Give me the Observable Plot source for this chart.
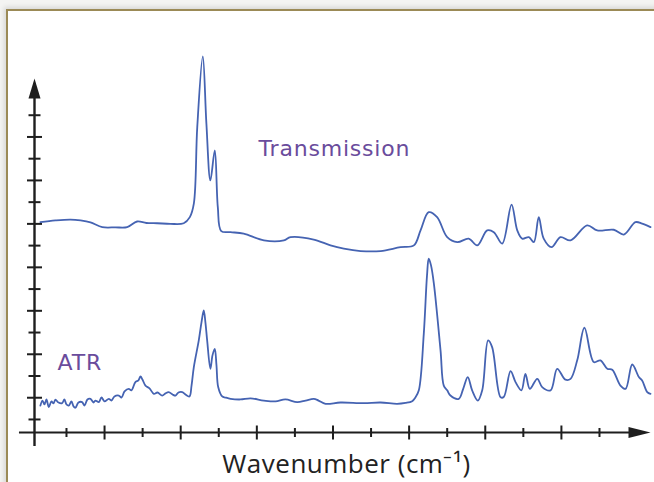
<!DOCTYPE html>
<html>
<head>
<meta charset="utf-8">
<script src="https://cdn.jsdelivr.net/npm/d3@7"></script>
<script src="https://cdn.jsdelivr.net/npm/@observablehq/plot@0.6"></script>
<style>
  html, body { margin: 0; padding: 0; background: #fff; }
  #wrap { position: relative; width: 654px; height: 482px; overflow: hidden; background: #f4f4f2; }
  #frame { position: absolute; left: 6px; top: 9px; width: 660px; height: 490px; background: #fff;
           border-left: 2px solid #9b8a56; border-top: 2px solid #9b8a56;
           box-shadow: -2px -2px 5px rgba(0,0,0,0.12); }
  #chart { position: absolute; left: 0; top: 0; }
</style>
</head>
<body>
<div id="wrap"><div id="frame"></div><div id="chart"></div></div>
<script>
// Transmission spectrum (wavenumber in cm-1, intensity in axis-tick units)
const transWavenumber = [3737,3658,3579,3526,3474,3412,3343,3281,3229,3180,3124,3054,2984,2952,2931,2913,2884,2865,2844,2821,2805,2787,2738,2669,2563,2458,2423,2301,2213,2143,2055,1950,1845,1775,1740,1697,1653,1600,1547,1487,1442,1390,1355,1311,1262,1232,1206,1171,1145,1119,1093,1052,1005,952,865,812,725,672,611,576,532];
const transIntensity  = [9.08,9.16,9.20,9.16,9.07,8.85,8.84,8.85,9.11,9.04,9.03,9.00,9.03,9.31,9.93,13.45,16.71,13.62,11.00,12.38,9.77,8.67,8.62,8.55,8.24,8.24,8.39,8.28,8.01,7.86,7.75,7.75,7.93,8.01,8.70,9.54,9.31,8.39,8.16,8.32,8.01,8.70,8.62,8.09,9.89,8.70,8.32,8.39,8.16,9.31,8.32,7.93,8.39,8.24,8.93,8.70,8.73,8.51,9.08,9.01,8.85];

// ATR spectrum
const atrWavenumber = [3737,3726,3716,3705,3693,3679,3668,3658,3642,3623,3611,3600,3588,3574,3563,3553,3537,3518,3505,3490,3474,3458,3448,3430,3416,3400,3378,3364,3348,3325,3311,3295,3273,3259,3238,3222,3211,3201,3185,3164,3141,3122,3097,3080,3063,3043,3027,3012,2992,2975,2954,2943,2931,2905,2891,2879,2870,2861,2844,2833,2821,2812,2803,2782,2765,2738,2686,2633,2563,2502,2450,2388,2344,2301,2276,2239,2161,2038,1950,1863,1819,1784,1767,1749,1723,1706,1697,1685,1670,1635,1618,1600,1583,1539,1516,1492,1469,1439,1416,1385,1364,1320,1303,1267,1241,1210,1189,1166,1127,1101,1057,1022,979,952,917,879,830,795,759,733,690,663,628,593,576,549,532];
const atrIntensity  = [0.64,0.87,0.69,0.92,0.57,0.83,0.74,0.91,0.78,0.75,0.92,0.69,0.64,0.83,0.60,0.54,0.78,0.80,0.64,0.92,0.95,0.78,0.87,0.80,1.01,0.83,0.95,0.87,1.06,1.10,1.01,1.29,1.41,1.34,1.72,1.80,1.98,1.84,1.56,1.43,1.18,1.24,1.10,1.20,1.26,1.15,1.10,1.24,1.26,1.15,1.06,1.56,2.41,3.64,4.46,5.02,4.46,3.64,2.33,2.95,3.25,2.49,1.49,1.06,1.01,0.95,0.92,0.97,0.87,0.83,0.92,0.80,0.87,0.95,0.87,0.72,0.78,0.75,0.78,0.72,0.76,0.84,1.01,1.34,3.94,6.63,7.40,7.09,6.25,3.18,1.56,1.34,1.10,0.95,1.41,1.95,1.34,0.87,1.34,3.64,3.33,1.03,1.03,2.22,1.72,1.34,2.10,1.41,1.87,1.49,1.34,2.33,1.83,1.87,2.72,4.22,2.64,2.72,2.33,2.29,1.56,1.41,2.53,1.95,1.79,1.26,1.18];

// Axis ticks
const xMajorTicks = [3400, 3000, 2600, 2200, 1800, 1400, 1000];
const xMinorTicks = [3600, 3200, 2800, 2400, 2000, 1600, 1200, 800];
const yMajorTicks = [1, 3, 5, 7, 9, 11, 13];
const yMinorTicks = [0, 2, 4, 6, 8, 10, 12, 14];

// Axis extents and labels
const xDomain = [3768, 532];
const yDomain = [-0.6, 15.69];
const xAxisStart = 3847;
const yAxisStart = -1.24;
const labels = [
  {text: "Transmission", x: 2591, y: 12.43},
  {text: "ATR", x: 3647, y: 2.62}
];
const xTitle = {text: "Wavenumber (cm\u207B\u00B9)", x: 2129, y: -2.1};

const trans = transWavenumber.map((w, i) => ({w, v: transIntensity[i]}));
const atr = atrWavenumber.map((w, i) => ({w, v: atrIntensity[i]}));

// custom symbols
const tickV = {draw(ctx, size) { const r = Math.sqrt(size / Math.PI); ctx.moveTo(0, -r); ctx.lineTo(0, r); }};
const tickH = {draw(ctx, size) { const r = Math.sqrt(size / Math.PI); ctx.moveTo(-r, 0); ctx.lineTo(r, 0); }};
const arrowRight = {draw(ctx, size) { const r = Math.sqrt(size / Math.PI); ctx.moveTo(0, 0); ctx.lineTo(-2 * r, -0.5 * r); ctx.lineTo(-2 * r, 0.5 * r); ctx.closePath(); }};
const arrowUp = {draw(ctx, size) { const r = Math.sqrt(size / Math.PI); ctx.moveTo(0, 0); ctx.lineTo(-0.6 * r, 2 * r); ctx.lineTo(0.6 * r, 2 * r); ctx.closePath(); }};

const ink = "#1e1e1e";
const blue = "#4563b2";
const purple = "#6a4c9c";

const chart = Plot.plot({
  width: 654,
  height: 482,
  style: {background: "transparent", overflow: "visible"},
  x: {domain: xDomain, range: [34, 650], axis: null},
  y: {domain: yDomain, range: [432, 78], axis: null},
  marks: [
    Plot.ruleY([yDomain[0]], {x1: xAxisStart, x2: xDomain[1] + 40, stroke: ink, strokeWidth: 2.2}),
    Plot.ruleX([xDomain[0]], {y1: yAxisStart, y2: yDomain[1] - 0.5, stroke: ink, strokeWidth: 2.4}),
    Plot.dot(xMajorTicks, {x: d => d, y: yDomain[0], symbol: tickV, r: 7, fill: "none", stroke: ink, strokeWidth: 2}),
    Plot.dot(xMinorTicks, {x: d => d, y: yDomain[0], symbol: tickV, r: 4.5, fill: "none", stroke: ink, strokeWidth: 2}),
    Plot.dot(yMajorTicks, {x: xDomain[0], y: d => d, symbol: tickH, r: 7.5, fill: "none", stroke: ink, strokeWidth: 2}),
    Plot.dot(yMinorTicks, {x: xDomain[0], y: d => d, symbol: tickH, r: 6, fill: "none", stroke: ink, strokeWidth: 2}),
    Plot.dot([0], {x: xDomain[1], y: yDomain[0], symbol: arrowRight, r: 11, fill: ink, stroke: "none"}),
    Plot.dot([0], {x: xDomain[0], y: yDomain[1], symbol: arrowUp, r: 10, fill: ink, stroke: "none"}),
    Plot.line(trans, {x: "w", y: "v", stroke: blue, strokeWidth: 1.8, strokeLinejoin: "round", curve: "catmull-rom"}),
    Plot.line(atr, {x: "w", y: "v", stroke: blue, strokeWidth: 1.8, strokeLinejoin: "round", curve: "catmull-rom"}),
    Plot.text(labels, {x: "x", y: "y", text: "text", textAnchor: "start", fill: purple, fontSize: 22, fontFamily: "DejaVu Sans"}),
    Plot.text([xTitle], {x: "x", y: "y", text: "text", fill: "#222", fontSize: 26, fontFamily: "Open Sans"})
  ]
});
d3.select(chart).selectAll("text").filter(function() { return this.textContent === "Transmission" || this.textContent === "ATR"; })
  .style("letter-spacing", "0.8px");
d3.select(chart).selectAll("text").filter(function() { return this.textContent.startsWith("Wavenumber"); })
  .style("letter-spacing", "0.5px");
document.getElementById("chart").appendChild(chart);
</script>
</body>
</html>
